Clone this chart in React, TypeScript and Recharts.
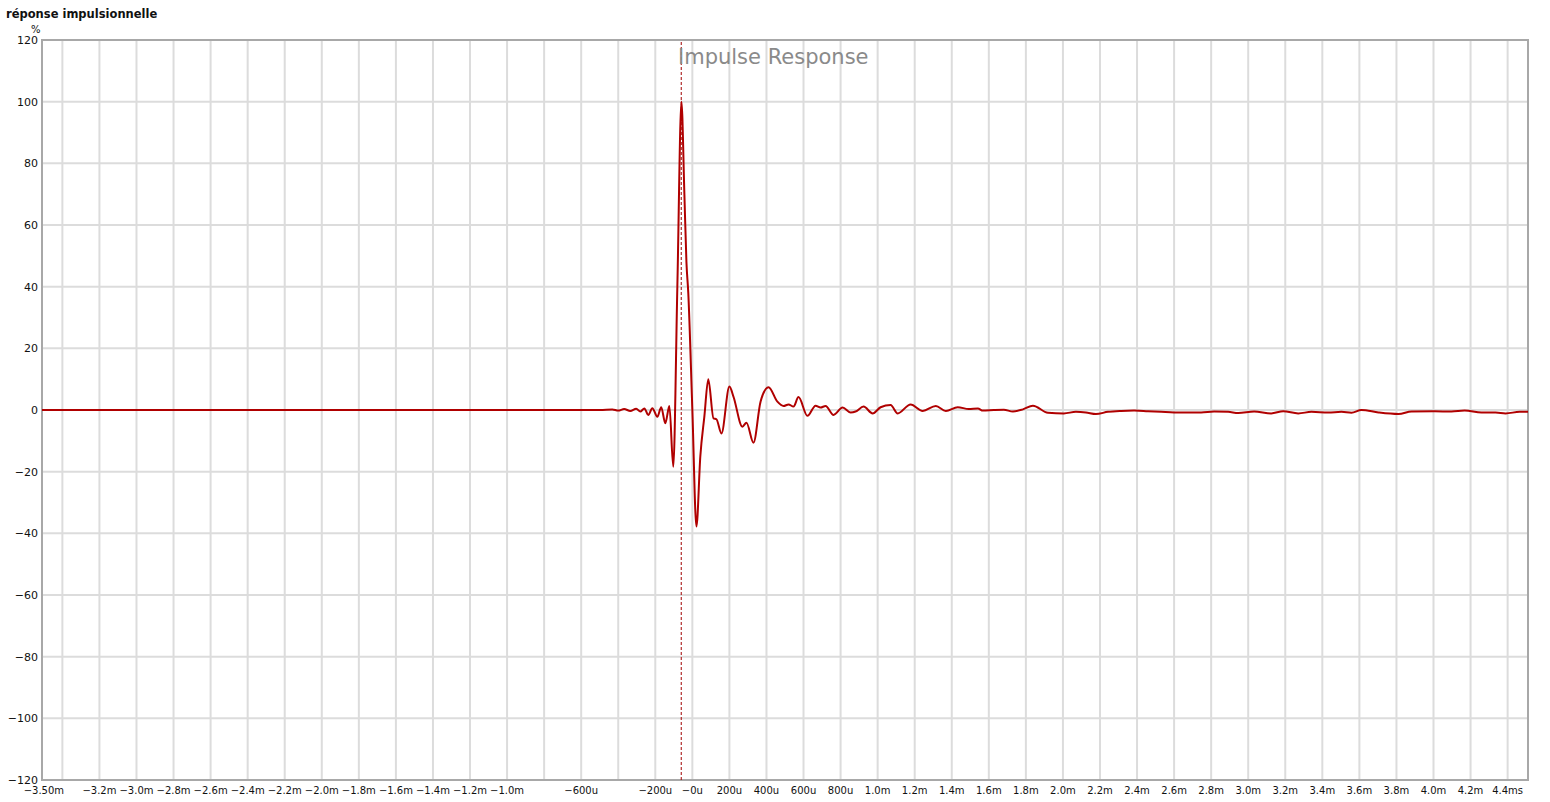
import React from 'react'
import {
  CartesianGrid,
  Line,
  LineChart,
  ReferenceArea,
  ReferenceLine,
  XAxis,
  YAxis,
} from 'recharts'

// time in ms, amplitude in %
const timeMs = [
  -3.51, -0.497, -0.432, -0.4, -0.368, -0.335, -0.303, -0.281, -0.259, -0.238,
  -0.216, -0.189, -0.168, -0.146, -0.124, -0.103, -0.081, -0.059, -0.043, -0.032,
  -0.022, 0, 0.022, 0.043, 0.065, 0.086, 0.114, 0.13, 0.157, 0.2,
  0.222, 0.27, 0.292, 0.33, 0.368, 0.411, 0.459, 0.492, 0.519, 0.546,
  0.573, 0.621, 0.665, 0.692, 0.719, 0.762, 0.811, 0.854, 0.881, 0.924,
  0.973, 1.016, 1.07, 1.108, 1.178, 1.243, 1.314, 1.368, 1.432, 1.492,
  1.541, 1.568, 1.627, 1.681, 1.73, 1.784, 1.838, 1.919, 2.005, 2.07,
  2.124, 2.178, 2.243, 2.314, 2.384, 2.459, 2.53, 2.6, 2.676, 2.746,
  2.816, 2.892, 2.946, 3.032, 3.124, 3.189, 3.27, 3.341, 3.432, 3.503,
  3.557, 3.611, 3.703, 3.811, 3.881, 4.005, 4.097, 4.168, 4.259, 4.335,
  4.389, 4.465, 4.51,
]

const amplitude = [
  0, 0, 0.2, -0.2, 0.3, -0.3, 0.4, -0.5, 0.5, -1.6,
  0.6, -2.2, 0.9, -4.3, 1.3, -18.4, 40, 100, 70, 48,
  38, 0, -37.8, -15, -2, 10, -2.7, -3, -7.6, 7.6,
  4.3, -5.4, -4.1, -10.6, 2.7, 7.4, 2.7, 1.3, 1.8, 1.1,
  4.2, -1.9, 1.4, 0.8, 1.3, -1.6, 0.8, -0.8, -0.5, 1.1,
  -1.1, 0.9, 1.6, -1.1, 1.8, -0.3, 1.3, -0.3, 0.9, 0.3,
  0.5, -0.2, 0, 0.1, -0.5, 0.2, 1.4, -0.9, -1.1, -0.6,
  -0.8, -1.3, -0.6, -0.3, -0.2, -0.4, -0.6, -0.8, -0.8, -0.8,
  -0.5, -0.6, -1, -0.5, -1.1, -0.4, -1.1, -0.6, -0.8, -0.6,
  -0.9, 0, -0.8, -1.3, -0.5, -0.4, -0.5, -0.2, -0.8, -0.8,
  -1.1, -0.6, -0.6,
]

const xTicks = [
  -3.5, -3.4, -3.2, -3.0, -2.8, -2.6, -2.4, -2.2, -2.0, -1.8, -1.6, -1.4, -1.2, -1.0,
  -0.8, -0.6, -0.4, -0.2, 0, 0.2, 0.4, 0.6, 0.8, 1.0, 1.2, 1.4, 1.6, 1.8, 2.0,
  2.2, 2.4, 2.6, 2.8, 3.0, 3.2, 3.4, 3.6, 3.8, 4.0, 4.2, 4.4,
]

const xTickLabels = [
  '\u22123.50m', '', '\u22123.2m', '\u22123.0m', '\u22122.8m', '\u22122.6m', '\u22122.4m',
  '\u22122.2m', '\u22122.0m', '\u22121.8m', '\u22121.6m', '\u22121.4m', '\u22121.2m', '\u22121.0m',
  '', '\u2212600u', '', '\u2212200u', '\u22120u', '200u', '400u', '600u', '800u', '1.0m',
  '1.2m', '1.4m', '1.6m', '1.8m', '2.0m', '2.2m', '2.4m', '2.6m', '2.8m', '3.0m', '3.2m',
  '3.4m', '3.6m', '3.8m', '4.0m', '4.2m', '4.4ms',
]

const yTicks = [-120, -100, -80, -60, -40, -20, 0, 20, 40, 60, 80, 100, 120]

const markerMs = -0.06

const data = timeMs.map((t, i) => ({ t, v: amplitude[i] }))

const font = '"DejaVu Sans", sans-serif'

export default function App() {
  return (
    <div style={{ position: 'absolute', left: 0, top: 0, width: 1550, height: 802, background: '#fff' }}>
      <div
        style={{
          position: 'absolute',
          left: 6,
          top: 7,
          fontFamily: font,
          fontSize: 11.5,
          fontWeight: 'bold',
          color: '#111',
        }}
      >
        réponse impulsionnelle
      </div>
      <div style={{ position: 'absolute', left: 31, top: 24, fontFamily: font, fontSize: 10, color: '#111' }}>
        %
      </div>
      <LineChart
        width={1550}
        height={802}
        data={data}
        margin={{ top: 40, right: 22, bottom: 0, left: 0 }}
      >
        <CartesianGrid stroke="#dcdcdc" strokeWidth={2} verticalValues={xTicks.slice(1)} />
        <XAxis
          dataKey="t"
          type="number"
          domain={[-3.51, 4.51]}
          allowDataOverflow
          ticks={xTicks}
          interval={0}
          height={22}
          tickLine={false}
          axisLine={false}
          tickSize={5}
          tick={{ fill: '#111', fontSize: 10, fontFamily: font }}
          tickFormatter={(value) => xTickLabels[xTicks.indexOf(value)] ?? ''}
        />
        <YAxis
          type="number"
          domain={[-120, 120]}
          ticks={yTicks}
          interval={0}
          width={42}
          tickLine={false}
          axisLine={false}
          tickSize={2}
          tickMargin={2}
          tick={{ fill: '#111', fontSize: 11, fontFamily: font }}
          tickFormatter={(value) => (value < 0 ? `\u2212${-value}` : `${value}`)}
        />
        <ReferenceArea
          x1={-3.51}
          x2={4.51}
          y1={-120}
          y2={120}
          fill="none"
          stroke="#a8a8a8"
          strokeWidth={2}
        />
        <ReferenceLine x={markerMs} stroke="#a00000" strokeDasharray="3 2" strokeWidth={1} />
        <Line
          type="monotone"
          dataKey="v"
          stroke="#b00000"
          strokeWidth={2}
          dot={false}
          isAnimationActive={false}
        />
      </LineChart>
      <div
        style={{
          position: 'absolute',
          left: 678,
          top: 45,
          fontFamily: font,
          fontSize: 21,
          color: '#8a8a8a',
        }}
      >
        Impulse Response
      </div>
    </div>
  )
}
